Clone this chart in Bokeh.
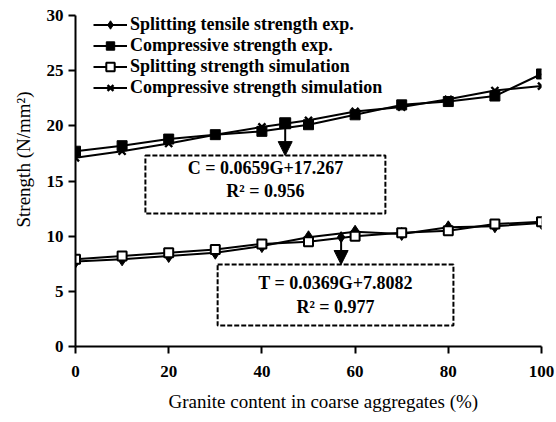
from bokeh.plotting import figure
from bokeh.models import Range1d, BoxAnnotation, Label, Arrow, NormalHead, Legend, LegendItem, FixedTicker, Title
from bokeh.embed import file_html
from bokeh.resources import INLINE

# ---- data ----
granite = [0, 10, 20, 30, 40, 50, 60, 70, 80, 90, 100]
tensile_exp = [7.7, 7.9, 8.2, 8.5, 9.1, 9.9, 10.4, 10.2, 10.8, 10.9, 11.2]
comp_exp = [17.7, 18.2, 18.8, 19.2, 19.5, 20.1, 21.0, 21.9, 22.2, 22.7, 24.7]
split_sim = [7.9, 8.2, 8.5, 8.8, 9.3, 9.5, 10.0, 10.3, 10.5, 11.1, 11.3]
comp_sim = [17.1, 17.7, 18.4, 19.2, 19.9, 20.5, 21.3, 21.7, 22.4, 23.2, 23.6]

x_ticks = [0, 20, 40, 60, 80, 100]
y_ticks = [0, 5, 10, 15, 20, 25, 30]
x_title = "Granite content in coarse aggregates (%)"
y_title = "Strength (N/mm\u00b2)"

# regression annotations
c_slope, c_icpt = 0.0659, 17.267
t_slope, t_icpt = 0.0369, 7.8082
c_text = ["C = 0.0659G+17.267", "R\u00b2 = 0.956"]
t_text = ["T = 0.0369G+7.8082", "R\u00b2 = 0.977"]
c_arrow_x = 45
t_arrow_x = 57
c_box = dict(left=15.0, right=66.5, top=17.3, bottom=12.05, line1=16.2, line2=14.1)
t_box = dict(left=30.5, right=81.1, top=7.43, bottom=1.9, line1=5.8, line2=3.6)

FONT = "Liberation Serif"

p = figure(width=556, height=422, output_backend="svg", toolbar_location=None,
           x_range=Range1d(0, 100), y_range=Range1d(0, 30),
           min_border_left=75, min_border_right=15, min_border_top=15, min_border_bottom=76)
p.outline_line_color = None
p.grid.visible = False
p.background_fill_color = "white"

for ax in (p.xaxis[0], p.yaxis[0]):
    ax.axis_line_color = "black"
    ax.axis_line_width = 2
    ax.major_tick_line_color = "black"
    ax.major_tick_line_width = 2
    ax.major_tick_out = 7
    ax.major_tick_in = 0
    ax.minor_tick_line_color = None
    ax.major_label_text_font = FONT
    ax.major_label_text_font_style = "bold"
    ax.major_label_text_font_size = "17px"
    ax.major_label_text_color = "black"

p.xaxis.ticker = FixedTicker(ticks=x_ticks)
p.yaxis.ticker = FixedTicker(ticks=y_ticks)
p.xaxis.major_label_standoff = 12
p.yaxis.major_label_standoff = 5

# axis titles (offset like the reference)
p.add_layout(Title(text=x_title, align="left", offset=93, standoff=18,
                   text_font=FONT, text_font_size="19px", text_font_style="normal",
                   text_color="black"), "below")
p.add_layout(Title(text=y_title, align="left", offset=119, standoff=20,
                   text_font=FONT, text_font_size="19px", text_font_style="normal",
                   text_color="black"), "left")

lw = 2
# series
l1 = p.line(granite, tensile_exp, line_color="black", line_width=lw)
m1 = p.scatter(granite, tensile_exp, marker="diamond", size=13, fill_color="black", line_color="black")
l2 = p.line(granite, comp_exp, line_color="black", line_width=lw)
m2 = p.scatter(granite, comp_exp, marker="square", size=10, fill_color="black", line_color="black")
l3 = p.line(granite, split_sim, line_color="black", line_width=lw)
m3 = p.scatter(granite, split_sim, marker="square", size=9, fill_color="white", line_color="black", line_width=2)
l4 = p.line(granite, comp_sim, line_color="black", line_width=lw)
m4 = p.scatter(granite, comp_sim, marker="x", size=10, line_color="black", line_width=2.4)

legend = Legend(items=[
    LegendItem(label="Splitting tensile strength exp.", renderers=[l1, m1]),
    LegendItem(label="Compressive strength exp.", renderers=[l2, m2]),
    LegendItem(label="Splitting strength simulation", renderers=[l3, m3]),
    LegendItem(label="Compressive strength simulation", renderers=[l4, m4]),
], location=(18, 248))
legend.background_fill_alpha = 0
legend.border_line_color = None
legend.padding = 0
legend.margin = 0
legend.spacing = 0
legend.label_height = 21
legend.glyph_height = 21
legend.glyph_width = 34
legend.label_standoff = 3
legend.label_text_font = FONT
legend.label_text_font_style = "bold"
legend.label_text_font_size = "18px"
legend.label_text_color = "black"
p.add_layout(legend, "center")

# regression boxes and text
for box, txt in ((c_box, c_text), (t_box, t_text)):
    p.add_layout(BoxAnnotation(left=box["left"], right=box["right"], top=box["top"], bottom=box["bottom"],
                               fill_alpha=0, line_color="black", line_alpha=1, line_width=2,
                               line_dash="5 2"))
    cx = (box["left"] + box["right"]) / 2
    p.add_layout(Label(x=cx, y=box["line1"], text=txt[0], text_align="center", text_baseline="middle",
                       text_font=FONT, text_font_style="bold", text_font_size="18px", text_color="black"))
    p.add_layout(Label(x=cx, y=box["line2"], text=txt[1], text_align="center", text_baseline="middle",
                       text_font=FONT, text_font_style="bold", text_font_size="18px", text_color="black"))

# arrows from regression lines
for ax_x, slope, icpt, box, mk in ((c_arrow_x, c_slope, c_icpt, c_box, "square"),
                                   (t_arrow_x, t_slope, t_icpt, t_box, "diamond")):
    y0 = slope * ax_x + icpt
    p.scatter([ax_x], [y0], marker=mk, size=11, fill_color="black", line_color="black")
    p.add_layout(Arrow(x_start=ax_x, y_start=y0, x_end=ax_x, y_end=box["top"],
                       line_color="black", line_width=2,
                       end=NormalHead(size=14, fill_color="black", line_color="black")))

open("out.html", "w").write(file_html(p, INLINE))
